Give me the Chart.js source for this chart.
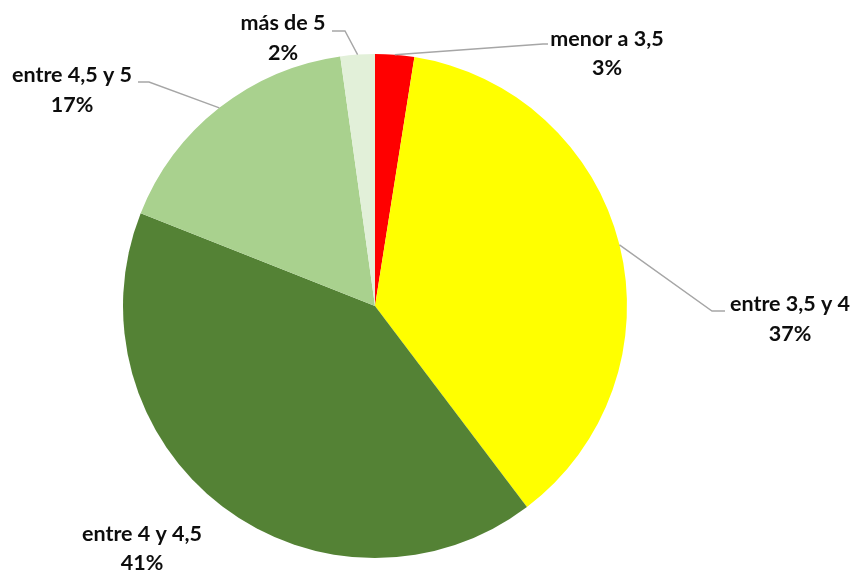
<!DOCTYPE html>
<html>
<head>
<meta charset="utf-8">
<script src="https://cdn.jsdelivr.net/npm/chart.js@4/dist/chart.umd.min.js"></script>
<style>
html,body{margin:0;padding:0;background:#fff;}
#wrap{width:854px;height:572px;}
</style>
</head>
<body>
<div id="wrap"><canvas id="c" width="854" height="572"></canvas></div>
<script>
// Data
const categories = ["menor a 3,5", "entre 3,5 y 4", "entre 4 y 4,5", "entre 4,5 y 5", "más de 5"];
const values = [2.5, 37.2, 41.3, 16.8, 2.2];
const colors = ["#FF0000", "#FFFF00", "#548235", "#A9D18E", "#E2F0D9"];

// Label layout (text centre x, baselines, leader elbow and end)
const labelLayout = [
  {x: 607, b1: 46, b2: 75, elbow: [543, 44], end: [548, 44]},
  {x: 790, b1: 311, b2: 341, elbow: [712, 311], end: [725, 311]},
  {x: 142, b1: 541, b2: 570, elbow: null, end: null},
  {x: 72, b1: 82, b2: 112, elbow: [149, 82], end: [138, 82]},
  {x: 283, b1: 29.5, b2: 60, elbow: [345, 31], end: [332, 31]}
];

const labelPlugin = {
  id: 'pieLabels',
  afterDatasetsDraw(chart) {
    const ctx = chart.ctx;
    const meta = chart.getDatasetMeta(0);
    const total = values.reduce((a, b) => a + b, 0);
    ctx.save();
    meta.data.forEach((arc, i) => {
      const L = labelLayout[i];
      const mid = (arc.startAngle + arc.endAngle) / 2;
      const ax = arc.x + Math.cos(mid) * arc.outerRadius;
      const ay = arc.y + Math.sin(mid) * arc.outerRadius;
      if (L.elbow) {
        ctx.strokeStyle = '#A6A6A6';
        ctx.lineWidth = 1.4;
        ctx.beginPath();
        ctx.moveTo(ax, ay);
        ctx.lineTo(L.elbow[0], L.elbow[1]);
        ctx.lineTo(L.end[0], L.end[1]);
        ctx.stroke();
      }
      ctx.fillStyle = '#0d0d0d';
      ctx.font = 'bold 21.5px Lato, "Open Sans", sans-serif';
      ctx.textAlign = 'center';
      ctx.textBaseline = 'alphabetic';
      ctx.fillText(categories[i], L.x, L.b1);
      ctx.fillText(Math.round(values[i] / total * 100) + '%', L.x, L.b2);
    });
    ctx.restore();
  }
};

new Chart(document.getElementById('c'), {
  type: 'pie',
  data: {
    labels: categories,
    datasets: [{
      data: values,
      backgroundColor: colors,
      borderWidth: 0
    }]
  },
  options: {
    responsive: false,
    animation: false,
    layout: {padding: {left: 123, right: 227, top: 54, bottom: 14}},
    plugins: {legend: {display: false}, tooltip: {enabled: false}}
  },
  plugins: [labelPlugin]
});
</script>
</body>
</html>
